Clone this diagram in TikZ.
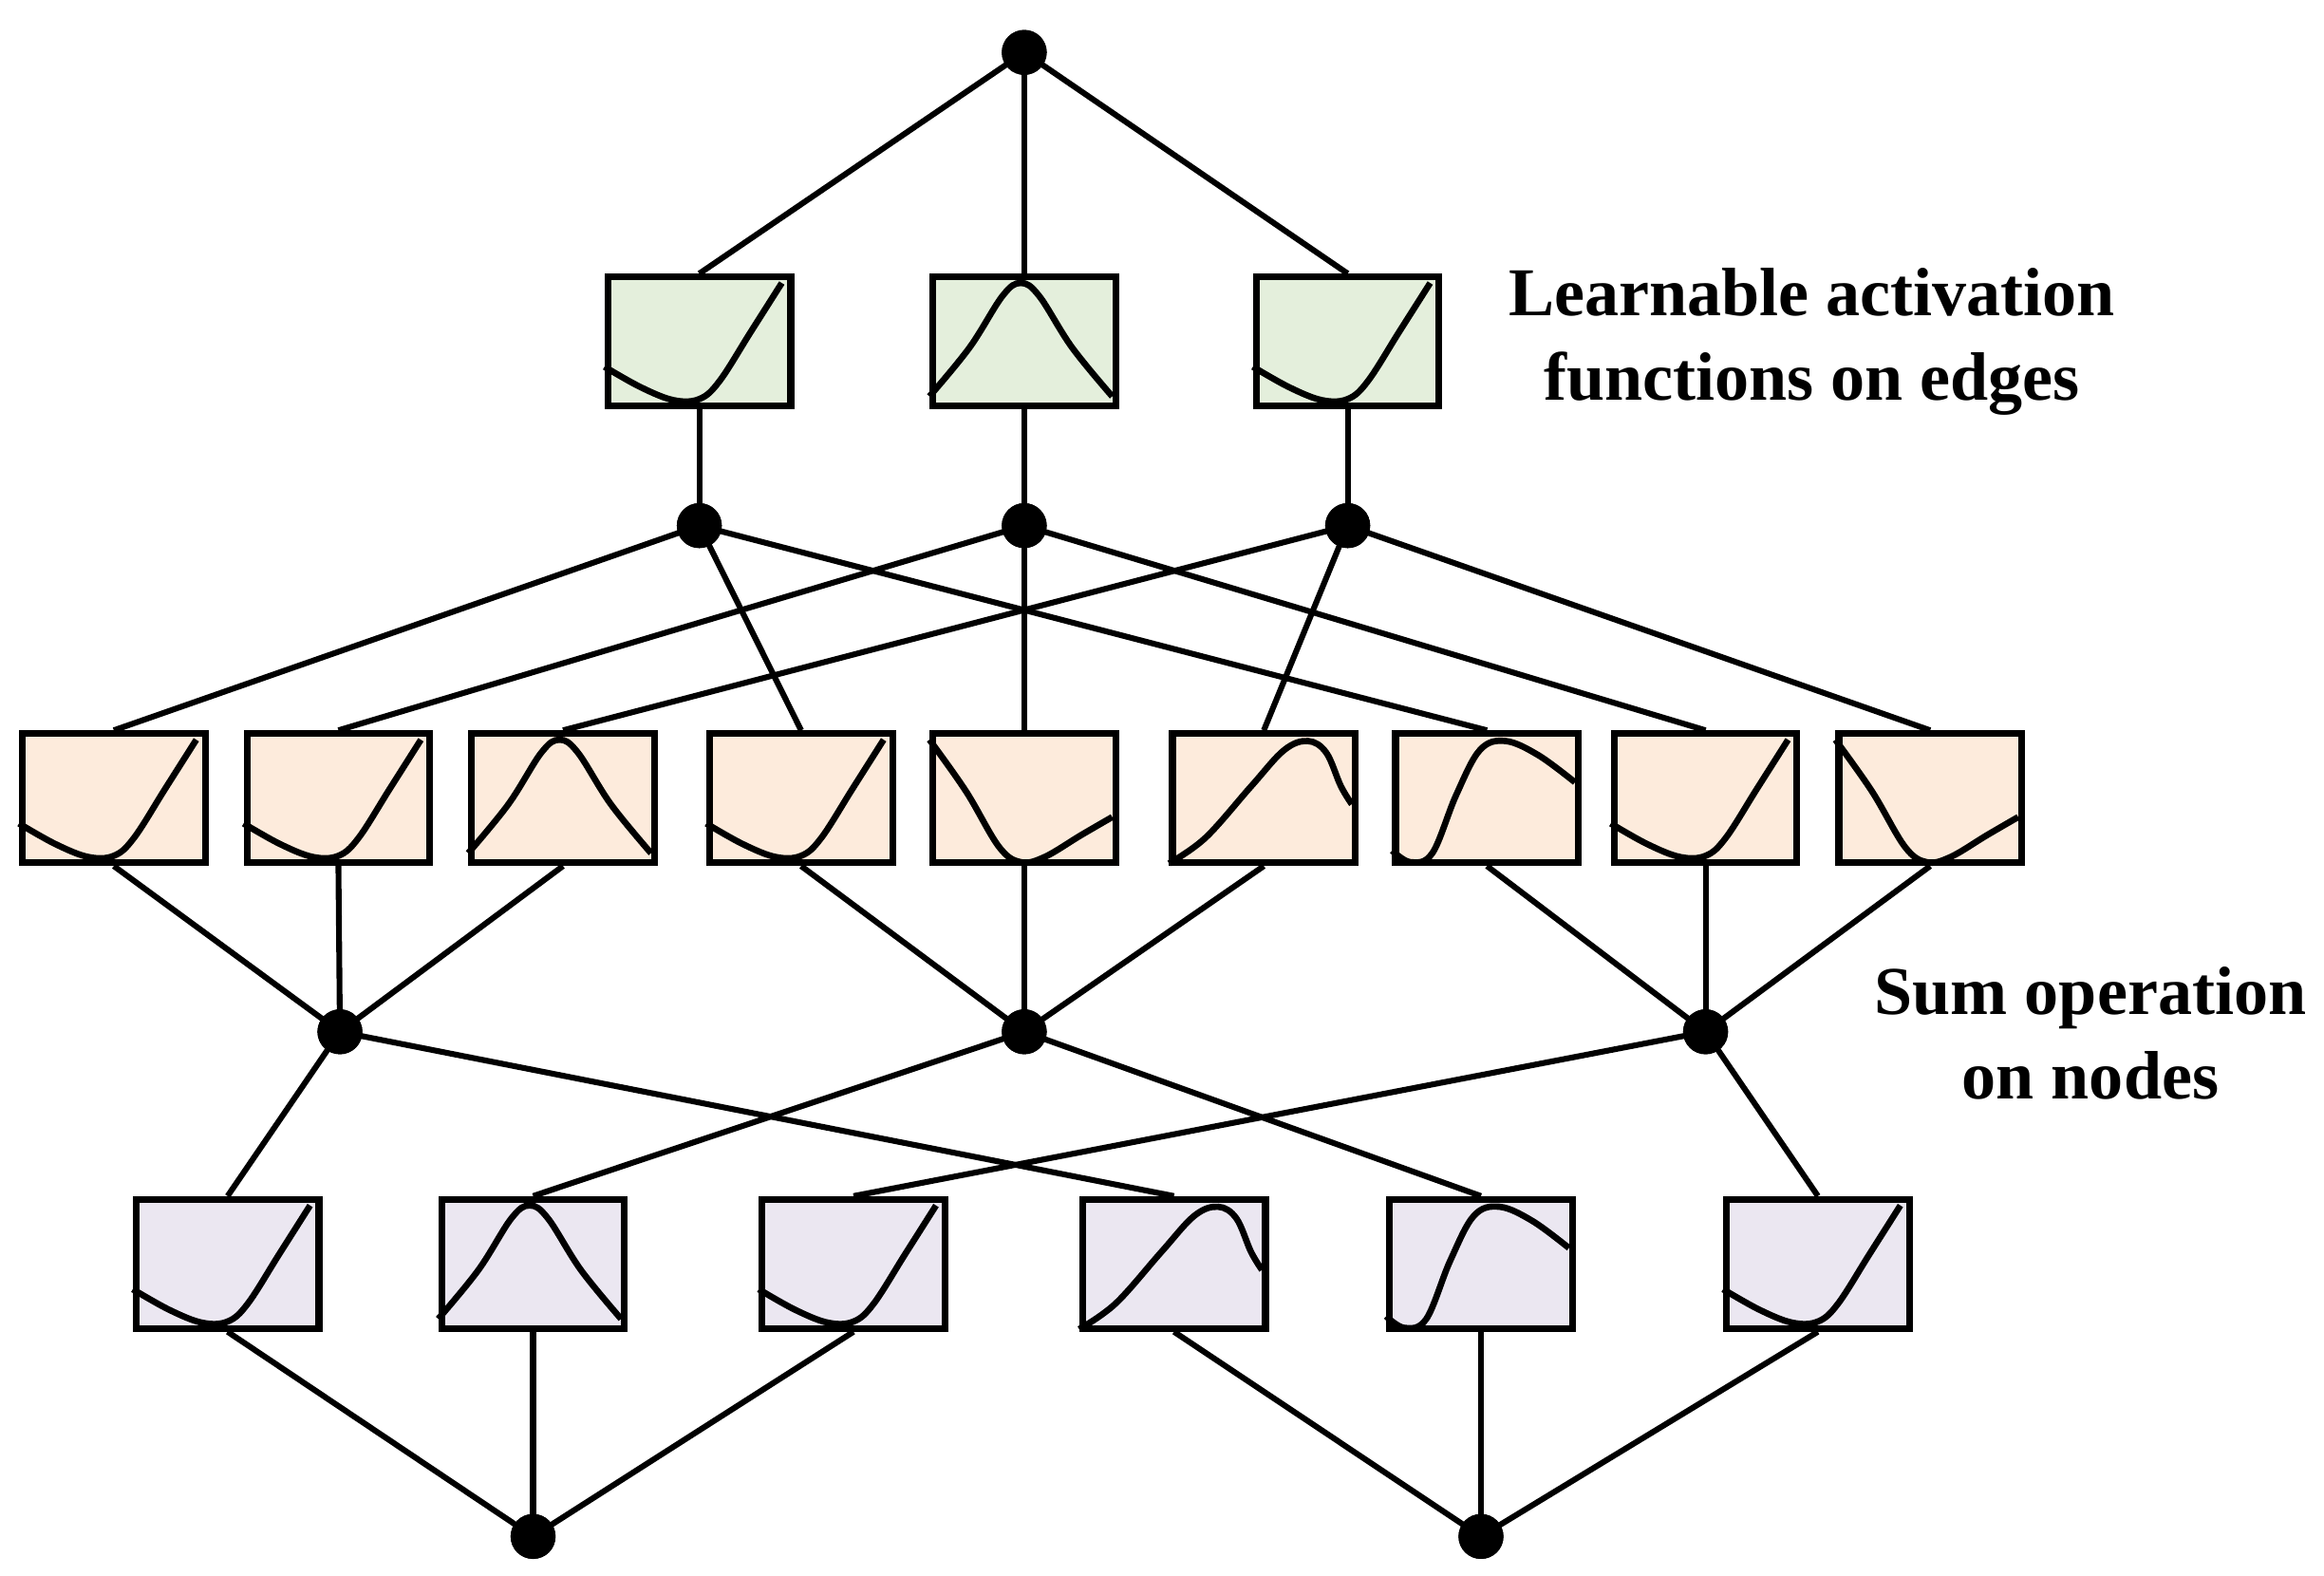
\documentclass[tikz,border=0pt]{standalone}
\usepackage{fontspec}
\setmainfont{Liberation Serif}
\begin{document}
\begin{tikzpicture}[x=0.01cm,y=-0.01cm,
  box/.style={draw,line width=1.3pt,minimum width=1.22cm,minimum height=0.86cm,inner sep=0pt},
  gb/.style={box,fill=green!10!white!92!black!0,fill={rgb,255:red,228;green,239;blue,220}},
  ob/.style={box,fill={rgb,255:red,253;green,235;blue,220}},
  pb/.style={box,fill={rgb,255:red,235;green,231;blue,241}},
  dot/.style={circle,fill=black,minimum size=0.3cm,inner sep=0pt},
  ln/.style={line width=1.1pt},
  lbl/.style={font=\fontsize{13}{16}\selectfont\bfseries,align=center}]
\useasboundingbox (0,0) rectangle (1552,1052);
\def\cA{(0,0.33) (0.2,0.17) (0.38,0.07) (0.52,0.08) (0.63,0.22) (0.8,0.6) (0.97,0.98)}
\def\cB{(0,0.1) (0.22,0.48) (0.4,0.88) (0.5,0.98) (0.6,0.88) (0.78,0.48) (1,0.1)}
\def\cC{(0,0.98) (0.2,0.58) (0.38,0.15) (0.5,0.03) (0.63,0.07) (0.83,0.24) (1,0.38)}
\def\cD{(0,0.02) (0.2,0.22) (0.45,0.62) (0.63,0.9) (0.76,0.97) (0.86,0.88) (0.94,0.62) (1,0.48)}
\def\cE{(0,0.12) (0.1,0.03) (0.22,0.1) (0.35,0.55) (0.48,0.9) (0.62,0.97) (0.8,0.86) (1,0.65)}
\newcommand\kcurve[2]{\begin{scope}[shift={(#1.south west)},x=1.22cm,y=0.86cm]
  \draw[line width=1.2pt] plot[smooth,tension=0.6] coordinates {#2};\end{scope}}
% dots
\node[dot] (t) at (684,35) {};
\foreach \i/\x in {1/467,2/684,3/900}{\node[dot] (a\i) at (\x,351) {};}
\foreach \i/\x in {1/227,2/684,3/1139}{\node[dot] (b\i) at (\x,689) {};}
\node[dot] (c1) at (356,1026) {};
\node[dot] (c2) at (989,1026) {};
% boxes
\foreach \i/\x in {1/467,2/684,3/900}{\node[gb] (g\i) at (\x,228) {};}
\foreach \i/\x in {1/76,2/226,3/376,4/535,5/684,6/844,7/993,8/1139,9/1289}{\node[ob] (o\i) at (\x,533) {};}
\foreach \i/\x in {1/152,2/356,3/570,4/784,5/989,6/1214}{\node[pb] (p\i) at (\x,844) {};}
% connectors
\foreach \i in {1,2,3}{\draw[ln] (t.center) -- (g\i.north); \draw[ln] (g\i.south) -- (a\i.center);}
\foreach \i/\j in {1/1,1/4,1/7,2/2,2/5,2/8,3/3,3/6,3/9}{\draw[ln] (a\i.center) -- (o\j.north);}
\foreach \j/\i in {1/1,2/1,3/1,4/2,5/2,6/2,7/3,8/3,9/3}{\draw[ln] (o\j.south) -- (b\i.center);}
\foreach \i/\j in {1/1,1/4,2/2,2/5,3/3,3/6}{\draw[ln] (b\i.center) -- (p\j.north);}
\foreach \j/\i in {1/1,2/1,3/1,4/2,5/2,6/2}{\draw[ln] (p\j.south) -- (c\i.center);}
% redraw dots on top
\foreach \n in {t,a1,a2,a3,b1,b2,b3,c1,c2}{\fill (\n.center) circle (0.15cm);}
% curves
\kcurve{g1}{\cA}\kcurve{g2}{\cB}\kcurve{g3}{\cA}
\kcurve{o1}{\cA}\kcurve{o2}{\cA}\kcurve{o3}{\cB}\kcurve{o4}{\cA}\kcurve{o5}{\cC}
\kcurve{o6}{\cD}\kcurve{o7}{\cE}\kcurve{o8}{\cA}\kcurve{o9}{\cC}
\kcurve{p1}{\cA}\kcurve{p2}{\cB}\kcurve{p3}{\cA}\kcurve{p4}{\cD}\kcurve{p5}{\cE}\kcurve{p6}{\cA}
% labels
\node[lbl] (l1) at (1210,228) {Learnable activation\\functions on edges};
\node[lbl] (l2) at (1396,690) {Sum operation\\on nodes};
\end{tikzpicture}
\end{document}
